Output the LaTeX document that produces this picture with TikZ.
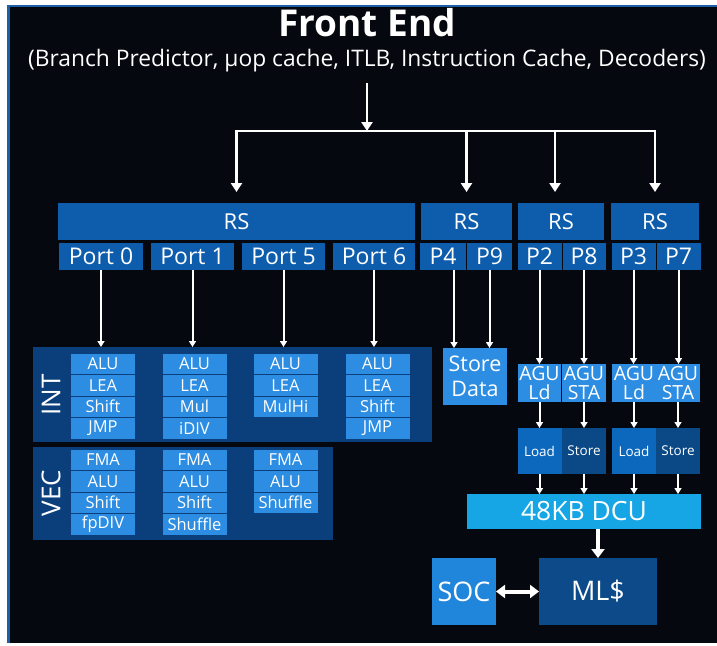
\documentclass[tikz,border=0pt]{standalone}
\usepackage{fontspec}
\setmainfont{Open Sans}
\usetikzlibrary{arrows.meta,calc}
\definecolor{bgdark}{HTML}{05080F}
\definecolor{frameblue}{HTML}{1D5FA6}
\definecolor{rsblue}{HTML}{0E5DAC}
\definecolor{panelblue}{HTML}{0A3F7B}
\definecolor{cellblue}{HTML}{2C8DE2}
\definecolor{loadblue}{HTML}{0B68BD}
\definecolor{storeblue}{HTML}{0A4886}
\definecolor{dcucyan}{HTML}{16A6E6}
\definecolor{mlblue}{HTML}{0C4A8A}
\definecolor{socblue}{HTML}{1F86DC}
\newcommand{\fs}[1]{\fontsize{#1}{#1}\selectfont}
\begin{document}
\begin{tikzpicture}[x=1pt,y=-1pt,
  blk/.style={fill=#1, text=white, inner sep=0pt, outer sep=0pt, align=center},
  cell/.style={blk=cellblue, minimum width=64pt, minimum height=20.5pt, font=\fs{16.5}},
  arr/.style={draw=white, line width=2.5pt, -{Triangle[length=9pt,width=11pt]}},
  wline/.style={draw=white, line width=2.5pt, line cap=rect},
  parr/.style={draw=white, line width=2pt, -{Triangle[length=6pt,width=7pt]}},
  darr/.style={draw=white, line width=4pt, -{Triangle[length=9pt,width=13pt]}},
  dbl/.style={draw=white, line width=4pt, {Triangle[length=9pt,width=13pt]}-{Triangle[length=9pt,width=13pt]}}]
\useasboundingbox (0,0) rectangle (717,645);
\fill[white] (0,0) rectangle (717,645);
\fill[bgdark] (7,5) rectangle (717,643);
\draw[frameblue, line width=3pt] (8.5,643) -- (8.5,6);
\draw[frameblue, line width=1.5pt] (7,5.75) -- (717,5.75);

% titles
\node[text=white, font=\bfseries\fs{37}] (title) at (367,23) {Front End};
\node[text=white, font=\fs{22.8}] (sub) at (367,61) {(Branch Predictor, μop cache, ITLB, Instruction Cache, Decoders)};

% RS blocks
\node[blk=rsblue, minimum width=357pt, minimum height=37pt, font=\fs{22}] (rs) at (236.5,221.5) {RS};
\node[blk=rsblue, minimum width=91pt, minimum height=37pt, font=\fs{22}] (rs2) at (466.5,221.5) {RS};
\node[blk=rsblue, minimum width=86pt, minimum height=37pt, font=\fs{22}] (rs3) at (561,221.5) {RS};
\node[blk=rsblue, minimum width=88pt, minimum height=37pt, font=\fs{22}] (rs4) at (655,221.5) {RS};

% ports
\begin{scope}[every node/.style={blk=rsblue, minimum height=27pt, font=\fs{23}}]
\node[minimum width=84pt] (p0) at (101,256.5) {Port 0};
\node[minimum width=83pt] (p1) at (192.5,256.5) {Port 1};
\node[minimum width=83pt] (p5) at (283.5,256.5) {Port 5};
\node[minimum width=82pt] (p6) at (374,256.5) {Port 6};
\node[minimum width=46pt] (p4) at (443,256.5) {P4};
\node[minimum width=45pt] (p9) at (489.5,256.5) {P9};
\node[minimum width=44pt] (p2) at (539.5,256.5) {P2};
\node[minimum width=43pt] (p8) at (584,256.5) {P8};
\node[minimum width=44pt] (p3) at (633.5,256.5) {P3};
\node[minimum width=44pt] (p7) at (678.5,256.5) {P7};
\end{scope}

% front end arrows
\coordinate (fe) at (367,83);
\coordinate (hl) at (367,131);
\draw[arr] (fe) -- (hl);
\draw[wline] (rs.north |- hl) -- (rs4.north |- hl);
\draw[arr] (rs.north |- hl) -- ([yshift=11pt]rs.north);
\draw[arr] (rs2.north |- hl) -- ([yshift=11pt]rs2.north);
\draw[arr] ([xshift=-6pt]rs3.north |- hl) -- ([xshift=-6pt,yshift=11pt]rs3.north);
\draw[arr] (rs4.north |- hl) -- ([yshift=11pt]rs4.north);

% INT / VEC panels
\node[blk=panelblue, minimum width=399pt, minimum height=95pt] (int) at (232.5,394.5) {};
\node[blk=panelblue, minimum width=300pt, minimum height=93pt] (vec) at (183,493.5) {};
\node[text=white, rotate=90, font=\fs{26}] (intlbl) at (51,395) {INT};
\node[text=white, rotate=90, font=\fs{26}] (veclbl) at (51,493) {VEC};

\foreach \col/\x/\items in {1/103/{ALU,LEA,Shift,JMP}, 2/194.5/{ALU,LEA,Mul,iDIV}, 3/285.5/{ALU,LEA,MulHi}, 4/377.5/{ALU,LEA,Shift,JMP}}{
  \foreach \t [count=\r] in \items {
    \node[cell] (int\col r\r) at (\x, 342.25+21.5*\r) {\t};
  }
}
\foreach \col/\x/\items in {1/103/{FMA,ALU,Shift,fpDIV}, 2/194.5/{FMA,ALU,Shift,Shuffle}, 3/285.5/{FMA,ALU,Shuffle}}{
  \foreach \t [count=\r] in \items {
    \node[cell] (vec\col r\r) at (\x, 438.25+21.5*\r) {\t};
  }
}

% memory side
\node[blk=cellblue, minimum width=64pt, minimum height=57pt, font=\fontsize{21.5}{25}\selectfont] (sd) at (475,376.5) {Store\\Data};
\begin{scope}[every node/.style={blk=cellblue, minimum width=43.5pt, minimum height=38pt, font=\fontsize{19.5}{19}\selectfont}]
\node (agu1) at (539.5,383) {AGU\\Ld};
\node (agu2) at (584,383) {AGU\\STA};
\node (agu3) at (634,383) {AGU\\Ld};
\node (agu4) at (678,383) {AGU\\STA};
\end{scope}
\begin{scope}[every node/.style={minimum width=44pt, minimum height=46pt, font=\fs{13.5}}]
\node[blk=loadblue] (ld1) at (539.5,451) {Load};
\node[blk=storeblue] (st1) at (584,451) {Store};
\node[blk=loadblue] (ld2) at (634,451) {Load};
\node[blk=storeblue] (st2) at (678,451) {Store};
\end{scope}
\node[blk=dcucyan, minimum width=234pt, minimum height=35pt, font=\fs{26.5}] (dcu) at (584,511.5) {48KB DCU};
\node[blk=mlblue, minimum width=118pt, minimum height=67pt, font=\fs{27}] (ml) at (598,591.5) {ML\$};
\node[blk=socblue, minimum width=64pt, minimum height=67pt, font=\fs{27}] (soc) at (464,591.5) {SOC};

% port arrows
\foreach \p in {p0,p1,p5,p6}{
  \draw[parr] (\p.south) -- (\p.south |- int.north);
}
\draw[parr] ([xshift=11pt]p4.south) -- ([xshift=11pt]p4.south |- sd.north);
\draw[parr] (p9.south) -- (p9.south |- sd.north);
\draw[parr] (p2.south) -- (p2.south |- agu1.north);
\draw[parr] (p8.south) -- (p8.south |- agu2.north);
\draw[parr] (p3.south) -- (p3.south |- agu3.north);
\draw[parr] (p7.south) -- (p7.south |- agu4.north);
\draw[parr] (agu1.south) -- (ld1.north);
\draw[parr] (agu2.south) -- (st1.north);
\draw[parr] (agu3.south) -- (ld2.north);
\draw[parr] (agu4.south) -- (st2.north);
\draw[parr] (ld1.south) -- (ld1.south |- dcu.north);
\draw[parr] (st1.south) -- (st1.south |- dcu.north);
\draw[parr] (ld2.south) -- (ld2.south |- dcu.north);
\draw[parr] (st2.south) -- (st2.south |- dcu.north);
\draw[darr] (ml.north |- dcu.south) -- (ml.north);
\draw[dbl] (soc.east) -- (ml.west);
\end{tikzpicture}
\end{document}
